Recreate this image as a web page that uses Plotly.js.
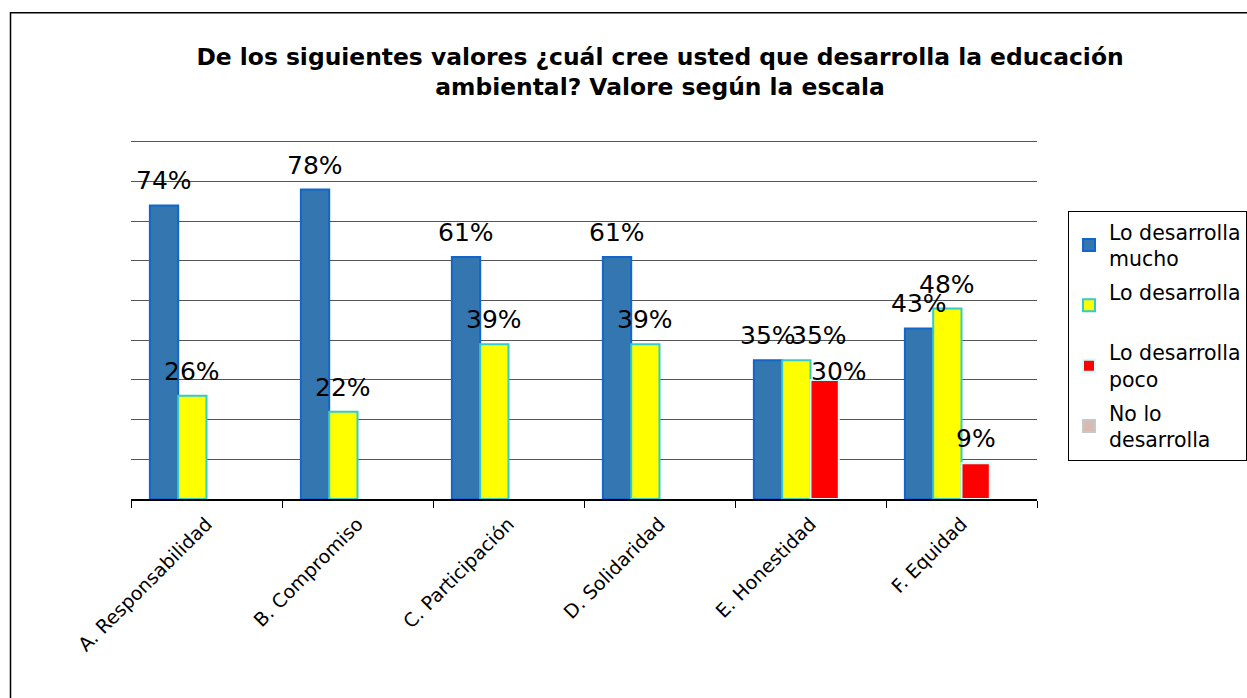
<!DOCTYPE html>
<html>
<head>
<meta charset="utf-8">
<script src="https://cdn.plot.ly/plotly-3.0.1.min.js"></script>
<style>html,body{margin:0;padding:0;background:#fff;}#chart{width:1247px;height:698px;}</style>
</head>
<body>
<div id="chart"></div>
<script>
// ---- data ----
const categories = ['A. Responsabilidad', 'B. Compromiso', 'C. Participación', 'D. Solidaridad', 'E. Honestidad', 'F. Equidad'];
const seriesNames = ['Lo desarrolla<br>mucho', 'Lo desarrolla<br>\u00a0', 'Lo desarrolla<br>poco', 'No lo<br>desarrolla'];
const mucho = [0.74, 0.78, 0.61, 0.61, 0.35, 0.43];
const desarrolla = [0.26, 0.22, 0.39, 0.39, 0.35, 0.48];
const poco = [null, null, null, null, 0.30, 0.09];
const noLo = [null, null, null, null, null, null];
const titleText = 'De los siguientes valores ¿cuál cree usted que desarrolla la educación<br>ambiental? Valore según la escala';

// ---- styles ----
const fills = ['#3376B0', '#FFFF00', '#FF0000', '#D9B9B1'];
const borders = ['#1166CC', '#33CCCC', '#CCFFFF', '#C8C8C8'];
const FONT = 'DejaVu Sans, Verdana, sans-serif';
const BARGAP = 0.25;
const YMAX = 0.905;
// label nudges (px) as in the original, keyed "series,category"
const labelNudge = {'1,4': [23, 0], '2,4': [14, -16]};

const seriesValues = [mucho, desarrolla, poco, noLo];
const nSeries = seriesValues.length;

const traces = seriesValues.map((vals, i) => ({
  type: 'bar',
  name: seriesNames[i],
  legendgroup: 'g' + i,
  x: categories,
  y: vals,
  marker: {color: fills[i], line: {color: borders[i], width: 2}},
  hoverinfo: 'skip'
}));

// data labels placed at each bar through the axis scales
const barW = (1 - BARGAP) / nSeries;
const annotations = [];
seriesValues.forEach((vals, i) => {
  vals.forEach((v, j) => {
    if (v === null) return;
    const nudge = labelNudge[i + ',' + j] || [0, 0];
    annotations.push({
      xref: 'x', yref: 'y',
      x: j + (i - (nSeries - 1) / 2) * barW,
      y: v,
      text: Math.round(v * 100) + '%',
      showarrow: false,
      xanchor: 'center', yanchor: 'bottom',
      xshift: nudge[0],
      yshift: 8 + nudge[1],
      font: {family: FONT, size: 25, color: '#000'}
    });
  });
});

const plotH = 357.5 * YMAX / 0.9;
const layout = {
  width: 1247, height: 698,
  margin: {l: 131, r: 210, t: 499.5 - plotH, b: 198.5, pad: 0, autoexpand: false},
  paper_bgcolor: '#fff', plot_bgcolor: '#fff',
  font: {family: FONT, color: '#000'},
  title: {
    text: titleText,
    font: {family: FONT, size: 23.4, color: '#000', weight: 'bold'},
    x: 660 / 1247, xanchor: 'center',
    yref: 'container', y: 1 - 65 / 698, yanchor: 'top'
  },
  barmode: 'group', bargap: BARGAP, bargroupgap: 0,
  xaxis: {
    type: 'category',
    tickson: 'boundaries',
    ticks: 'outside', ticklen: 7, tickcolor: '#000', tickwidth: 1,
    showline: true, linecolor: '#000', linewidth: 1.5,
    showgrid: false,
    tickangle: -45,
    ticklabelstandoff: 5,
    tickfont: {family: FONT, size: 19, color: '#000'},
    automargin: false,
    fixedrange: true
  },
  yaxis: {
    range: [0, YMAX],
    dtick: 0.1, tick0: 0,
    showticklabels: false,
    showgrid: true, gridcolor: '#555', gridwidth: 1,
    zeroline: false, showline: false, ticks: '',
    fixedrange: true
  },
  showlegend: true,
  legend: {
    x: (1068 - 131) / 906, xanchor: 'left',
    y: (499.5 - 211) / plotH, yanchor: 'top',
    bordercolor: '#000', borderwidth: 1,
    bgcolor: '#fff',
    font: {family: FONT, size: 20.5, color: '#000'},
    traceorder: 'grouped',
    tracegroupgap: 4
  },
  shapes: [{
    type: 'rect', xref: 'paper', yref: 'paper',
    x0: (10.5 - 131) / 906, x1: 2,
    y0: -2, y1: (499.5 - 12.5) / plotH,
    line: {color: '#000', width: 1.5}, fillcolor: 'rgba(0,0,0,0)', layer: 'below'
  }],
  annotations: annotations
};

Plotly.newPlot('chart', traces, layout, {displayModeBar: false, staticPlot: true});
</script>
</body>
</html>
